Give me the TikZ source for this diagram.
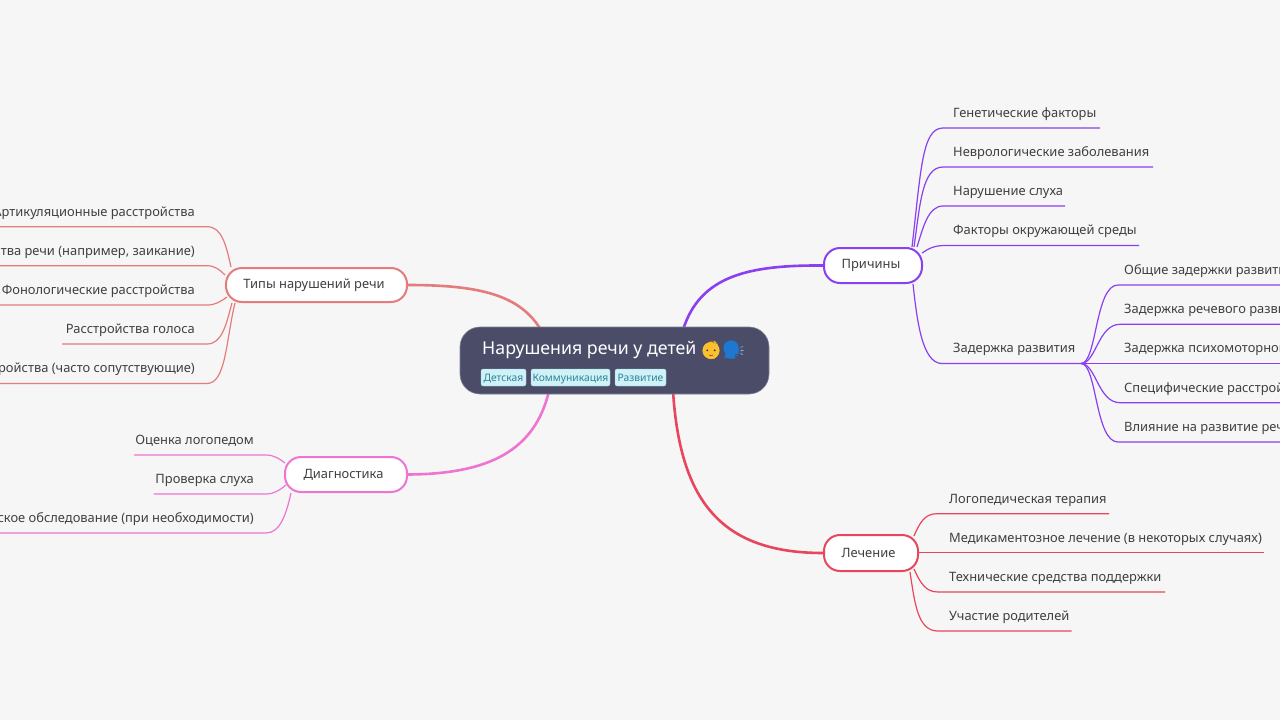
\documentclass[tikz,border=0pt]{standalone}
\usepackage{fontspec}
\setmainfont{Noto Sans}
\newfontfamily\emojifont{Noto Emoji}
\pgfdeclarelayer{conn}
\pgfsetlayers{conn,main}
\definecolor{bgc}{HTML}{F6F6F6}
\definecolor{rootc}{HTML}{4A4C68}
\definecolor{txtc}{HTML}{404040}
\definecolor{tagf}{HTML}{CFF1F8}
\definecolor{tagt}{HTML}{2F8496}
\definecolor{cred}{HTML}{E47C7C}
\definecolor{cpur}{HTML}{8A3FF0}
\definecolor{cpin}{HTML}{EE74D2}
\definecolor{cros}{HTML}{E8465C}
\definecolor{babyc}{HTML}{FBC02D}
\definecolor{headc}{HTML}{1E78D2}
\tikzset{
  x=1pt,y=-1pt,
  branchbox/.style={draw=#1,fill=white,line width=2pt,rounded corners=16pt,inner sep=0pt,font=\fontsize{12.9}{15}\selectfont,text=txtc},
  leaftext/.style={inner sep=0pt,font=\fontsize{12.9}{15}\selectfont,text=txtc},
  leafline/.style={draw=#1,line width=1.2pt},
  trunk/.style={draw=#1,line width=2.6pt},
  tagbox/.style={fill=tagf,draw=tagf!70!tagt,line width=.3pt,rounded corners=2pt,inner sep=0pt,minimum height=17pt,text height=10pt,text depth=2.5pt,font=\fontsize{10.3}{12}\selectfont,text=tagt}
}
% name, x of text, y of underline, x of line end, text
\newcommand{\leafR}[5]{%
  \node[leaftext,anchor=base west] (#1) at (#2,#3-10.7) {#5};
  \coordinate (#1u) at (#2,#3);
  \coordinate (#1e) at (#4,#3);
}
\newcommand{\leafL}[5]{%
  \node[leaftext,anchor=base east] (#1) at (#2,#3-10.7) {#5};
  \coordinate (#1u) at (#2,#3);
  \coordinate (#1e) at (#4,#3);
}
\begin{document}
\begin{tikzpicture}
\useasboundingbox (0,0) rectangle (1280,720);
\clip (0,0) rectangle (1280,720);
\begin{pgfonlayer}{conn}
\fill[bgc] (0,0) rectangle (1280,720);
\end{pgfonlayer}

% attachment points on the root
\coordinate (rA) at (541,330);
\coordinate (rB) at (683,330);
\coordinate (rC) at (549,391);
\coordinate (rD) at (673,391);

% branches
\node[branchbox=cred,minimum width=181pt,minimum height=34pt] (typ) at (316.5,285) {Типы нарушений речи\kern5pt};
\node[branchbox=cpur,minimum width=98pt,minimum height=35pt] (pri) at (873,265.5) {Причины\kern4pt};
\node[branchbox=cpin,minimum width=122pt,minimum height=35pt] (dia) at (346,474.5) {Диагностика\kern5pt};
\node[branchbox=cros,minimum width=94pt,minimum height=36pt] (lec) at (871,553) {Лечение\kern5pt};

% leaves
\leafR{p1}{953}{128}{1100}{Генетические факторы}
\leafR{p2}{953}{167}{1153}{Неврологические заболевания}
\leafR{p3}{953}{206}{1065}{Нарушение слуха}
\leafR{p4}{953}{245.5}{1139}{Факторы окружающей среды}
\leafR{p5}{953}{363.5}{1081}{Задержка развития}
\leafR{s1}{1124}{285}{1280}{Общие задержки развития}
\leafR{s2}{1124}{324.3}{1280}{Задержка речевого развития}
\leafR{s3}{1124}{363.5}{1280}{Задержка психомоторного}
\leafR{s4}{1124}{402.7}{1280}{Специфические расстройства}
\leafR{s5}{1124}{442}{1280}{Влияние на развитие речи}
\leafL{t1}{195}{226.7}{0}{Артикуляционные расстройства}
\leafL{t2}{195}{265.7}{0}{Расстройства речи (например, заикание)}
\leafL{t3}{195}{305}{0}{Фонологические расстройства}
\leafL{t4}{195}{344}{62}{Расстройства голоса}
\leafL{t5}{195}{383.5}{0}{Расстройства (часто сопутствующие)}
\leafL{d1}{254}{455}{134}{Оценка логопедом}
\leafL{d2}{254}{494}{153.5}{Проверка слуха}
\leafL{d3}{254}{533}{0}{ское обследование (при необходимости)}
\leafR{l1}{949}{513.7}{1109}{Логопедическая терапия}
\leafR{l2}{949}{552.7}{1263.5}{Медикаментозное лечение (в некоторых случаях)}
\leafR{l3}{949}{592}{1165}{Технические средства поддержки}
\leafR{l4}{949}{631}{1071.5}{Участие родителей}

\begin{pgfonlayer}{conn}
% trunks
\draw[trunk=cred] (typ.east) .. controls (480,285) and (520,295) .. (rA);
\draw[trunk=cpur] (pri.west) .. controls (750,265) and (700,275) .. (rB);
\draw[trunk=cpin] (dia.east) .. controls (490,474) and (535,450) .. (rC);
\draw[trunk=cros] (lec.west) .. controls (720,553) and (680,500) .. (rD);
% Причины
\draw[leafline=cpur] (pri.north east) ++(-11,0) .. controls (921,170) and (922,128) .. (943,128) -- (p1e);
\draw[leafline=cpur] (pri.north east) ++(-9,0) .. controls (920,205) and (922,167) .. (943,167) -- (p2e);
\draw[leafline=cpur] (pri.north east) ++(-6,0) .. controls (923,228) and (928,206) .. (943,206) -- (p3e);
\draw[leafline=cpur] (pri.north east) ++(-1,6) .. controls (927,250) and (932,245.5) .. (945,245.5) -- (p4e);
\draw[leafline=cpur] (pri.south east) ++(-10,0) .. controls (917,320) and (922,363.5) .. (942,363.5) -- (p5e);
% Задержка развития
\draw[leafline=cpur] (p5e) .. controls (1097,363.5) and (1095,285) .. (1118,285) -- (s1e);
\draw[leafline=cpur] (p5e) .. controls (1096,363.5) and (1098,324.3) .. (1120,324.3) -- (s2e);
\draw[leafline=cpur] (p5e) -- (s3e);
\draw[leafline=cpur] (p5e) .. controls (1096,363.5) and (1098,402.7) .. (1120,402.7) -- (s4e);
\draw[leafline=cpur] (p5e) .. controls (1097,363.5) and (1095,442) .. (1118,442) -- (s5e);
% Типы
\draw[leafline=cred] (typ.north west) ++(6,0) .. controls (226,245) and (222,226.7) .. (207,226.7) -- (t1e);
\draw[leafline=cred] (typ.north west) ++(0,8) .. controls (220,270) and (215,265.7) .. (207,265.7) -- (t2e);
\draw[leafline=cred] (typ.south west) ++(2,-6) .. controls (220,302) and (215,305) .. (207,305) -- (t3e);
\draw[leafline=cred] (typ.south west) ++(7,0) .. controls (226,325) and (222,344) .. (207,344) -- (t4e);
\draw[leafline=cred] (typ.south west) ++(10,0) .. controls (226,340) and (226,383.5) .. (207,383.5) -- (t5e);
% Диагностика
\draw[leafline=cpin] (dia.north west) ++(1,7) .. controls (280,459) and (274,455) .. (266,455) -- (d1e);
\draw[leafline=cpin] (dia.south west) ++(2,-8) .. controls (280,490) and (274,494) .. (266,494) -- (d2e);
\draw[leafline=cpin] (dia.south west) ++(7,0) .. controls (286,515) and (280,533) .. (266,533) -- (d3e);
% Лечение
\draw[leafline=cros] (lec.north east) ++(-5,2) .. controls (920,522) and (925,513.7) .. (937,513.7) -- (l1e);
\draw[leafline=cros] (lec.east |- l2e) -- (l2e);
\draw[leafline=cros] (lec.south east) ++(-5,-3) .. controls (920,582) and (925,592) .. (938,592) -- (l3e);
\draw[leafline=cros] (lec.south east) ++(-9,0) .. controls (915,605) and (918,631) .. (938,631) -- (l4e);
\end{pgfonlayer}

% root
\node[fill=rootc,draw=rootc!70!white,line width=.6pt,rounded corners=20pt,minimum width=309pt,minimum height=67pt,inner sep=0pt] (root) at (614.5,360.5) {};
\node[anchor=base west,inner sep=0pt,text=white,font=\fontsize{17.75}{20}\selectfont] (title) at (482,354) {Нарушения речи у детей};
% emoji glyphs in their own colours, filled in beneath and detailed above
\node[anchor=base west,inner sep=0pt,text=babyc,font=\emojifont\fontsize{18}{20}\selectfont] (e1) at (701,356) {^^^^^^01f476};
\node[anchor=base west,inner sep=0pt,text=headc,font=\emojifont\fontsize{18}{20}\selectfont] (e2) at (722,356) {^^^^^^01f5e3};
\fill[babyc] (711,350.5) circle (8.6);
\fill[brown!80!black] (709,341.6) .. controls (711,339.5) and (714.5,340.5) .. (714.5,343) .. controls (713,342) and (711,342) .. cycle;
\fill[black!75] (707.3,350.3) circle (1.05) (714.7,350.3) circle (1.05);
\draw[brown!70!black,line width=.7pt] (709,355) .. controls (710.2,356) and (711.8,356) .. (713,355);
\fill[headc] (731,348) circle (7.6);
\fill[headc] (726,350) -- (724.5,358) -- (735,358) -- (735,354) -- (738.5,353.5) -- (738.5,348) -- cycle;
\draw[black!35,line width=.7pt] (740.5,347.5) -- (743,346.5) (740.5,350.5) -- (743.5,350.5) (740.5,353.5) -- (743,354.5);
\node[tagbox,minimum width=45pt] (g1) at (503.5,377.5) {Детская};
\node[tagbox,minimum width=79pt] (g2) at (570.5,377.5) {Коммуникация};
\node[tagbox,minimum width=51pt] (g3) at (640.5,377.5) {Развитие};
\end{tikzpicture}
\end{document}
